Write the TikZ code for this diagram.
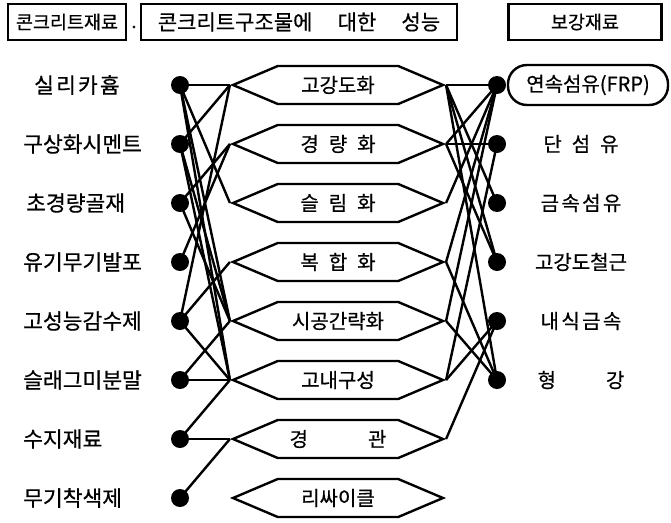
\documentclass[tikz,border=0pt]{standalone}
\usepackage{fontspec}
\newfontfamily\kr[FakeBold=0.6]{Noto Sans CJK KR}
\usetikzlibrary{shapes.symbols}

\begin{document}
\begin{tikzpicture}[x=1pt, y=-1pt, line width=2.4pt,
    every node/.style={font=\kr\fontsize{20}{22}\selectfont},
    dot/.style={circle, fill, inner sep=0pt, minimum size=18pt},
    hexa/.style={draw, signal, signal to=west and east, signal pointer angle=46,
        minimum width=210pt, minimum height=38pt, inner sep=0pt},
    head/.style={draw, line width=2.8pt, minimum height=36pt, inner sep=0pt,
        font=\kr\fontsize{18.5}{20}\selectfont},
    lab/.style={anchor=west, inner sep=0pt, font=\kr\fontsize{21.5}{24}\selectfont}]
            \useasboundingbox (0,0) rectangle (671,522);

            % Headers
            \node[head, minimum width=118pt] (t1) at (67,22) {콘크리트재료};
            \node[inner sep=0pt] (dt) at (134,27) {.};
            \node[head, minimum width=316pt] (t2) at (299,22)
                {\fontsize{21}{22}\selectfont 콘크리트구조물에\hspace{1.2em}대한\hspace{1.2em}성능};
            \node[head, minimum width=153pt] (t3) at (585,22) {보강재료};

            % Nodes
            \foreach \i in {1,...,8} {
                \node[dot] (l\i) at (180,{85+59*(\i-1)}) {};
            }
            \foreach \i in {1,...,6} {
                \node[dot] (r\i) at (497,{85+59*(\i-1)}) {};
            }
            \node[lab] (a1) at (33,85) {실\hspace{0.1em}리\hspace{0.1em}카\hspace{0.1em}흄};
            \node[lab] (a2) at (22,144) {구상화시멘트};
            \node[lab] (a3) at (25,203) {초경량골재};
            \node[lab] (a4) at (22,262) {유기무기발포};
            \node[lab] (a5) at (22,321) {고성능감수제};
            \node[lab] (a6) at (22,380) {슬래그미분말};
            \node[lab] (a7) at (22,439) {수지재료};
            \node[lab] (a8) at (22,498) {무기착색제};

            \node[hexa] (h1) at (338,85) {고강도화};
            \node[hexa] (h2) at (338,144) {경\hspace{0.5em}량\hspace{0.5em}화};
            \node[hexa] (h3) at (338,203) {슬\hspace{0.5em}림\hspace{0.5em}화};
            \node[hexa] (h4) at (338,262) {복\hspace{0.5em}합\hspace{0.5em}화};
            \node[hexa] (h5) at (338,321) {시공간략화};
            \node[hexa] (h6) at (338,380) {고내구성};
            \node[hexa] (h7) at (338,439) {경\hspace{3em}관};
            \node[hexa] (h8) at (338,498) {리싸이클};

            \node[draw, rounded corners=19pt, minimum width=160pt, minimum height=40pt,
                inner sep=0pt] (b1) at (588,85) {연속섬유(FRP)};
            \node (b2) at (581,144) {단\hspace{0.5em}섬\hspace{0.5em}유};
            \node (b3) at (581,203) {금\hspace{0.12em}속\hspace{0.12em}섬\hspace{0.12em}유};
            \node (b4) at (581,262) {고강도철근};
            \node (b5) at (581,321) {내\hspace{0.12em}식\hspace{0.12em}금\hspace{0.12em}속};
            \node (b6) at (581,380) {형\hspace{2.5em}강};

            % Edges
            \foreach \a/\b in {1/1,1/3,1/5,1/6,2/1,2/5,2/6,3/2,3/5,4/2,
                               5/1,5/4,5/6,6/5,6/6,7/6,7/7,8/7} {
                \draw (l\a.center) -- (h\b.west);
            }
            \foreach \a/\b in {1/1,1/3,1/4,1/6,2/1,2/2,2/4,3/1,4/1,4/6,
                               5/1,5/6,6/2,6/5,7/5} {
                \draw (h\a.east) -- (r\b.center);
            }
            \draw (r1) -- (b1);
\end{tikzpicture}
\end{document}
